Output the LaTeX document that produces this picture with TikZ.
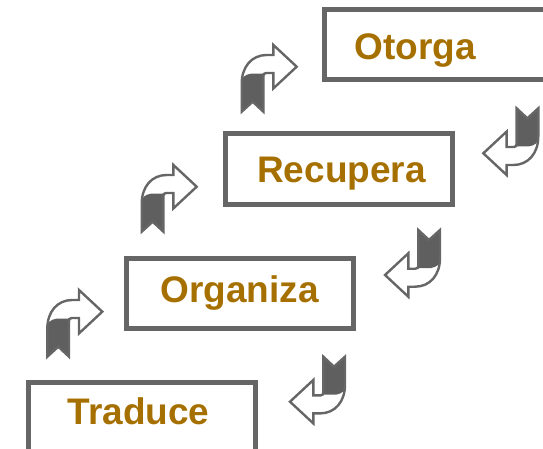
\documentclass[tikz,border=0pt]{standalone}
\usepackage{fontspec}
\setmainfont{Liberation Sans}
\usepackage{tikz}
\definecolor{boxgray}{RGB}{102,102,102}
\definecolor{iconfill}{RGB}{95,95,95}
\definecolor{wordcol}{RGB}{166,112,0}
\tikzset{
		stepbox/.style={draw=boxgray,line width=5pt,minimum width=227pt,minimum height=70pt,inner sep=0pt},
		stepword/.style={font=\fontsize{37}{40}\selectfont\bfseries,text=wordcol,text height=26.5pt,text depth=0pt,inner sep=0pt},
		curvearrow/.pic={
			\fill[iconfill] (0,0) -- (11,-10) -- (21.7,0) -- (21.7,-38) -- (9,-38)
				.. controls (3,-37) and (0,-34) .. (0,-30) -- cycle;
			\draw[boxgray,line width=2.4pt,line join=miter] (0,0) -- (11,-10) -- (21.7,0) -- (21.7,-35)
				.. controls (21.7,-38) .. (24.5,-38.7) -- (31.7,-38.7) -- (31.7,-23.3) -- (55,-45)
				-- (31.7,-66.7) -- (31.7,-56.7) -- (25,-56.7)
				.. controls (10,-56.7) and (0,-45) .. (0,-28) -- cycle;
		}
	}

\begin{document}
\begin{tikzpicture}[x=1pt,y=-1pt]
	\useasboundingbox (0,0) rectangle (543,449);
	\clip (0,0) rectangle (543,449);
	\node[stepbox] (traduce)  at (141.5,417.5) {};
	\node[stepbox] (organiza) at (239.5,293)   {};
	\node[stepbox] (recupera) at (338.7,169)   {};
	\node[stepbox] (otorga)   at (437.7,45)    {};
	\node[stepword] (traduceword)  at (138.5,411.7) {Traduce};
	\node[stepword] (organizaword) at (239.7,289.7) {Organiza};
	\node[stepword] (recuperaword) at (341.5,169)   {Recupera};
	\node[stepword] (otorgaword)   at (415,46.7)    {Otorga};

	% arrows going up
	\pic at (47.3,356.7)  {curvearrow};
	\pic at (141.7,231.7) {curvearrow};
	\pic at (241.7,111.7) {curvearrow};
	% arrows coming down
	\pic[rotate=180] at (345,356.7)   {curvearrow};
	\pic[rotate=180] at (440,230)     {curvearrow};
	\pic[rotate=180] at (538.3,108.3) {curvearrow};
\end{tikzpicture}
\end{document}
